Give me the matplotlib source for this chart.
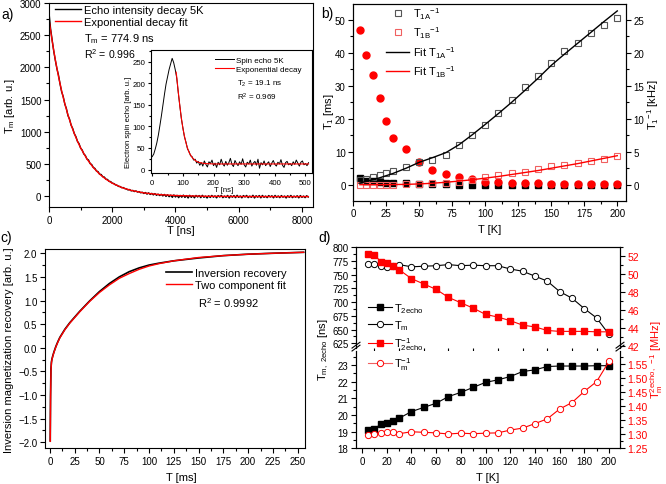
import matplotlib
matplotlib.use("Agg")
import matplotlib.pyplot as plt
from matplotlib.ticker import MultipleLocator
from matplotlib.lines import Line2D
import numpy as np

plt.rcParams["font.family"] = ["Liberation Sans", "DejaVu Sans"]
plt.rcParams["mathtext.fontset"] = "custom"
plt.rcParams["mathtext.rm"] = "Liberation Sans"
plt.rcParams["mathtext.it"] = "Liberation Sans:italic"
plt.rcParams["mathtext.default"] = "regular"
plt.rcParams["axes.linewidth"] = 0.8

W, H = 666, 485

# ---------------- panel a: echo decay ----------------
echo_signal = [
    2850, 2600, 2420, 2250, 2110, 1980, 1880, 1740, 1620, 1545, 1430, 1360, 1250, 1195,
    1100, 1050, 970, 925, 850, 815, 745, 715, 655, 630, 575, 560, 505, 490, 445, 430,
    390, 380, 340, 335, 300, 295, 262, 258, 228, 225, 200, 195, 175, 168, 150, 148,
    130, 132, 115, 110, 95, 102, 80, 88, 70, 80, 62, 70, 50, 60, 40,
    55, 30, 50, 25, 42, 18, 38, 12, 30, 8, 28, 2, 25, -5, 20, -10, 15, -20, 18, -15,
    12, -25, 10, -18, 15, -22, 8, -30, 12, -20, 5, -28, 10, -15, 8, -25, 12, -20, 0,
    -30, 5, -22, 10, -18, 3, -28, 8, -15, 12, -25, 0, -20, 10, -30, 5, -18, 8, -25,
    12, -20, 2, -28, 8, -15, 10, -25, 0, -20, 12, -30, 5, -18, 8, -28, 10, -20, 0,
    -25, 8, -15, 5, -28, 10, -20, 2, -25, 8, -18, 0, -30, 5, -20, 10, -25, 0, -18,
    5, -28, 8, -20, 0, -25, 5, -15,
]
echo_fit_t = [0, 100, 200, 300, 400, 500, 600, 700, 800, 900, 1000, 1200, 1400, 1600,
              1800, 2000, 2300, 2600, 3000, 3500, 4000, 5000, 6000, 7000, 8200]
echo_fit = [2742, 2409, 2117, 1859, 1633, 1435, 1260, 1106, 972, 853, 749, 576, 444, 341,
            262, 200, 133, 88, 49, 22, 8, -4, -7, -8, -8]

spin_echo = [
    30, 36, 48, 62, 80, 102, 125, 150, 175, 198, 215, 232, 245, 258, 248, 232,
    212, 178, 148, 118, 97, 76, 64, 48, 42, 32, 30, 22, 24, 15, 19,
    10, 16, 8, 20, 12, 6, 18, 14, 22, 9, 15, 5, 17, 11, 24, 13, 8, 19, 10, 16,
    26, 12, 7, 21, 14, 9, 18, 12, 25, 11, 6, 17, 13, 22, 8, 15, 19, 10, 24, 3,
    16, 11, 20, 9, 14, 18, 7, 15, 21, 12, 8, 17, 13, 23, 10, 5, 16, 19, 11, 14,
    9, 18, 12, 22, 15, 8, 17, 20, 11, 14, 9, 16,
]
spin_fit_t = [78, 80, 85, 90, 95, 100, 105, 110, 115, 120, 130, 140, 150, 170, 200, 300, 510]
spin_fit = [226, 214, 180, 148, 120, 96, 78, 62, 50, 40, 28, 21, 17, 14, 13, 13, 13]

# ---------------- panel b: T1 vs temperature ----------------
b_T = [5, 10, 15, 20, 25, 30, 40, 50, 60, 70, 80, 90, 100, 110, 120, 130, 140, 150,
       160, 170, 180, 190, 200]
t1a_ms = [2.1, 1.2, 1.1, 0.7, 0.6, 0.5, 0.4, 0.3, 0.15, 0.1, 0.05, 0.05, 0.05, 0.05,
          0.05, 0.04, 0.04, 0.03, 0.03, 0.03, 0.03, 0.03, 0.03]
t1b_ms = [47, 39.4, 33.4, 26.3, 19.2, 14.3, 10.8, 7.0, 4.4, 3.2, 2.2, 1.6, 0.8, 0.7,
          0.5, 0.5, 0.4, 0.3, 0.3, 0.2, 0.2, 0.2, 0.2]
rate_a_khz = [0.7, 0.9, 1.15, 1.5, 1.75, 2.05, 2.75, 3.45, 3.8, 4.55, 5.95, 7.6, 9.1,
              10.9, 12.9, 14.8, 16.5, 18.5, 20.25, 21.5, 23.0, 24.25, 25.25]
rate_b_khz = [0, 0, 0, 0, 0, 0, 0.05, 0.1, 0.2, 0.3, 0.45, 0.7, 1.2, 1.4, 1.8, 1.95,
              2.4, 2.85, 3.05, 3.25, 3.55, 3.95, 4.4]
fit_a_T = [5, 10, 20, 30, 40, 50, 60, 70, 80, 90, 100, 110, 120, 130, 140, 150, 160,
           170, 180, 190, 200]
fit_a_khz = [0.25, 0.5, 1.05, 1.7, 2.5, 3.4, 4.1, 4.85, 6.05, 7.55, 9.15, 10.8, 12.5,
             14.3, 16.15, 18.1, 19.8, 21.45, 23.1, 24.75, 26.35]
fit_b_T = [5, 20, 40, 50, 60, 70, 80, 90, 100, 110, 120, 130, 140, 150, 160, 170, 180,
           190, 200]
fit_b_khz = [0, 0, 0.05, 0.12, 0.22, 0.37, 0.55, 0.75, 1.0, 1.25, 1.55, 1.85, 2.15,
             2.5, 2.85, 3.2, 3.6, 4.0, 4.4]

# ---------------- panel c: inversion recovery ----------------
rec_t = [0.3, 0.6, 1, 1.5, 2, 3, 4, 6, 8, 10, 15, 20, 25, 30, 40, 50, 60, 70, 80, 90,
         100, 110, 125, 150, 175, 200, 225, 256]
rec_data = [-1.97, -1.0, -0.45, -0.3, -0.24, -0.16, -0.09, 0.03, 0.13, 0.22, 0.39, 0.53,
            0.65, 0.77, 0.99, 1.19, 1.36, 1.50, 1.61, 1.69, 1.75, 1.79, 1.84, 1.90,
            1.95, 1.98, 2.0, 2.02]
rec_fit = [-1.98, -1.1, -0.5, -0.32, -0.25, -0.17, -0.1, 0.02, 0.12, 0.21, 0.38, 0.52,
           0.64, 0.76, 0.98, 1.17, 1.33, 1.47, 1.57, 1.66, 1.73, 1.78, 1.84, 1.91,
           1.95, 1.98, 2.0, 2.02]

# ---------------- panel d: phase memory ----------------
d_T = [5, 10, 15, 20, 25, 30, 40, 50, 60, 70, 80, 90, 100, 110, 120, 130, 140, 150,
       160, 170, 180, 190, 200]
t2echo = [19.1, 19.15, 19.45, 19.5, 19.65, 19.8, 20.2, 20.45, 20.7, 21.1, 21.35, 21.65,
          21.95, 22.1, 22.3, 22.6, 22.7, 22.9, 22.93, 22.93, 22.93, 22.95, 22.95]
tm = [770, 769, 766, 764, 766, 768, 764, 765, 766, 768, 766, 767, 766, 766, 760, 756,
      747, 738, 719, 707, 688, 671, 641]
t2echo_inv = [52.3, 52.2, 51.4, 51.3, 50.9, 50.5, 49.5, 48.9, 48.3, 47.4, 46.8, 46.2,
              45.5, 45.2, 44.8, 44.3, 44.1, 43.7, 43.6, 43.6, 43.6, 43.55, 43.55]
tm_inv = [1.298, 1.300, 1.305, 1.309, 1.307, 1.302, 1.309, 1.307, 1.305, 1.301, 1.304,
          1.302, 1.304, 1.305, 1.315, 1.322, 1.338, 1.355, 1.39, 1.413, 1.453, 1.488, 1.56]

TICK = 7
TXT = 8


def fx(px):
    return px / W


def fy(py):
    return 1 - py / H


def box(left, top, right, bottom):
    return [fx(left), fy(bottom), (right - left) / W, (bottom - top) / H]


def style(ax, xmaj, xmin, ymaj, ymin, size=TICK, right=False):
    ax.xaxis.set_major_locator(MultipleLocator(xmaj))
    ax.xaxis.set_minor_locator(MultipleLocator(xmin))
    ax.yaxis.set_major_locator(MultipleLocator(ymaj))
    ax.yaxis.set_minor_locator(MultipleLocator(ymin))
    ax.tick_params(which="both", direction="out", top=False, right=right,
                   labelsize=size, pad=2, width=0.8)
    ax.tick_params(which="major", length=3.5)
    ax.tick_params(which="minor", length=2)


def legend_at(handles, labels, px, py, size=TXT, **kw):
    opts = dict(frameon=False, fontsize=size, handlelength=2.3, handletextpad=0.3,
                labelspacing=0.2, borderpad=0, borderaxespad=0)
    opts.update(kw)
    return fig.legend(handles, labels, loc="upper left", bbox_to_anchor=(fx(px), fy(py)),
                      bbox_transform=fig.transFigure, **opts)


fig = plt.figure(figsize=(W / 100, H / 100), dpi=100)

# ---- a ----
ax_a = fig.add_axes(box(49, 4, 313, 208))
ha1, = ax_a.plot(50 * np.arange(len(echo_signal)), echo_signal, color="black", lw=1.0)
ha2, = ax_a.plot(echo_fit_t, echo_fit, color="red", lw=1.0)
ax_a.set_xlim(0, 8350)
ax_a.set_ylim(-170, 3000)
style(ax_a, 2000, 1000, 500, 250)
legend_at([ha1, ha2], ["Echo intensity decay 5K", "Exponential decay fit"], 55, 6)
fig.text(fx(84), fy(39), "T$_m$ = 774.9 ns", fontsize=TXT, va="center")
fig.text(fx(84), fy(54), "R$^2$ = 0.996", fontsize=7.6, va="center")
fig.text(fx(10), fy(106), "T$_m$ [arb. u.]", fontsize=TXT, rotation=90, ha="center",
         va="center")
fig.text(fx(181), fy(231), "T [ns]", fontsize=TXT, ha="center", va="center")

ax_in = fig.add_axes(box(150.7, 50.7, 311.6, 174))
hi1, = ax_in.plot(5 * np.arange(len(spin_echo)), spin_echo, color="black", lw=0.7)
hi2, = ax_in.plot(spin_fit_t, spin_fit, color="red", lw=0.8)
ax_in.set_xlim(-5, 520)
ax_in.set_ylim(-8, 278)
style(ax_in, 100, 50, 50, 25, size=5.6)
ax_in.tick_params(which="major", length=2.5, pad=1.5)
ax_in.tick_params(which="minor", length=1.5)
legend_at([hi1, hi2], ["Spin echo 5K", "Exponential decay"], 215, 57, size=5.8,
          labelspacing=0.25)
fig.text(fx(237), fy(84), "T$_2$ = 19.1 ns", fontsize=5.8, va="center")
fig.text(fx(237), fy(97), "R$^2$ = 0.969", fontsize=5.8, va="center")
fig.text(fx(128), fy(122), "Electron spin echo [arb. u.]", fontsize=5.5, rotation=90,
         ha="center", va="center")
fig.text(fx(224), fy(191), "T [ns]", fontsize=5.6, ha="center", va="center")

# ---- b ----
ax_b = fig.add_axes(box(353.3, 5, 626, 201.7))
ax_b2 = ax_b.twinx()
ax_b.plot(b_T, t1a_ms, "s", color="black", ms=4.2, zorder=3)
ax_b.plot(b_T, t1b_ms, "o", color="red", ms=5, zorder=3)
h1, = ax_b2.plot(b_T, rate_a_khz, "s", mfc="none", mec="#555555", ms=5, mew=0.8)
h2, = ax_b2.plot(b_T, rate_b_khz, "s", mfc="none", mec="#f06060", ms=5, mew=0.8)
h3, = ax_b2.plot(fit_a_T, fit_a_khz, color="black", lw=1.0)
h4, = ax_b2.plot(fit_b_T, fit_b_khz, color="red", lw=1.0)
ax_b.set_xlim(0, 206.6)
ax_b.set_ylim(-4.85, 54.8)
ax_b2.set_ylim(-2.425, 27.4)
style(ax_b, 25, 12.5, 10, 5)
style(ax_b2, 25, 12.5, 5, 2.5, right=True)
ax_b2.tick_params(axis="y", left=False, right=True)
legend_at([h1, h2, h3, h4],
          ["T$_{1A}$$^{-1}$", "T$_{1B}$$^{-1}$", "Fit T$_{1A}$$^{-1}$", "Fit T$_{1B}$$^{-1}$"],
          386, 6, handlelength=2.1, labelspacing=0.35)
fig.text(fx(329), fy(112), "T$_1$ [ms]", fontsize=TXT, rotation=90, ha="center",
         va="center")
fig.text(fx(653), fy(105), "T$_1$$^{-1}$ [kHz]", fontsize=TXT, rotation=90, ha="center",
         va="center")
fig.text(fx(490), fy(230), "T [K]", fontsize=TXT, ha="center", va="center")

# ---- c ----
ax_c = fig.add_axes(box(45, 250, 305, 449.3))
hc1, = ax_c.plot(rec_t, rec_data, color="black", lw=1.2)
hc2, = ax_c.plot(rec_t, rec_fit, color="red", lw=1.0)
ax_c.set_xlim(-5, 257.4)
ax_c.set_ylim(-2.127, 2.09)
style(ax_c, 25, 12.5, 0.5, 0.25)
legend_at([hc1, hc2], ["Inversion recovery", "Two component fit"], 166, 269)
fig.text(fx(198), fy(303), "R$^2$ = 0.9992", fontsize=TXT, va="center")
fig.text(fx(9), fy(350), "Inversion magnetization recovery [arb. u.]", fontsize=TXT,
         rotation=90, ha="center", va="center")
fig.text(fx(181), fy(478), "T [ms]", fontsize=TXT, ha="center", va="center")

# ---- d (broken axis) ----
ax_up = fig.add_axes(box(356, 248, 620, 349))
ax_lo = fig.add_axes(box(356, 352, 620, 449.3), sharex=ax_up)
ax_up_r = ax_up.twinx()
ax_lo_r = ax_lo.twinx()

ax_up.plot(d_T, tm, "-o", color="black", mfc="white", ms=4.5, mew=0.7, lw=0.8)
ax_up_r.plot(d_T, t2echo_inv, "-s", color="red", ms=4.2, lw=0.8)
ax_lo.plot(d_T, t2echo, "-s", color="black", ms=4.2, lw=0.8)
ax_lo_r.plot(d_T, tm_inv, "-o", color="red", mfc="white", ms=4.5, mew=0.7, lw=0.8)

ax_up.set_xlim(-4.9, 208.9)
ax_up.set_ylim(616.4, 800)
ax_up_r.set_ylim(41.74, 53.04)
ax_lo.set_ylim(18, 23.83)
ax_lo_r.set_ylim(1.25, 1.597)

style(ax_up, 20, 10, 25, 12.5)
style(ax_lo, 20, 10, 1, 0.5)
style(ax_up_r, 20, 10, 2, 1, right=True, size=7.5)
style(ax_lo_r, 20, 10, 0.05, 0.025, right=True, size=7.5)
for a in (ax_up_r, ax_lo_r):
    a.tick_params(axis="y", left=False, right=True, labelcolor="red")
for a in (ax_up, ax_up_r):
    a.spines["bottom"].set_visible(False)
    a.tick_params(axis="x", bottom=False, labelbottom=False)
for a in (ax_lo, ax_lo_r):
    a.spines["top"].set_visible(False)

# break marks on both vertical spines
for xpos in (0, 1):
    for dy in (0.0, 0.03):
        ax_lo.plot([xpos - 0.015, xpos + 0.015], [1.0 + dy, 1.06 + dy],
                   transform=ax_lo.transAxes, color="black", lw=0.8, clip_on=False)

d_handles = [
    Line2D([], [], color="black", marker="s", ms=4.2, lw=0.8),
    Line2D([], [], color="black", marker="o", mfc="white", ms=4.5, mew=0.7, lw=0.8),
    Line2D([], [], color="red", marker="s", ms=4.2, lw=0.8),
    Line2D([], [], color="#f06060", marker="o", mfc="white", mec="red", ms=4.5, mew=0.7,
           lw=0.8),
]
d_labels = ["T$_{2echo}$", "T$_m$", "T$^{-1}_{2echo}$", "T$^{-1}_m$"]
legend_at(d_handles, d_labels, 368, 302, handlelength=2.2, handletextpad=0.15,
          labelspacing=0.3)
fig.text(fx(324), fy(350), "T$_{m,\\ 2echo}$ [ns]", fontsize=TXT, rotation=90,
         ha="center", va="center")
fig.text(fx(657), fy(360), "T$_m^{2echo,\\ -1}$ [MHz]", fontsize=TXT, rotation=90,
         ha="center", va="center", color="red")
fig.text(fx(488), fy(478), "T [K]", fontsize=TXT, ha="center", va="center")

# panel letters
for lbl, px, py in (("a)", 8, 15), ("b)", 327, 14), ("c)", 6, 238), ("d)", 325, 238)):
    fig.text(fx(px), fy(py), lbl, fontsize=10, ha="center", va="center")

fig.savefig("out.png", dpi=100)
